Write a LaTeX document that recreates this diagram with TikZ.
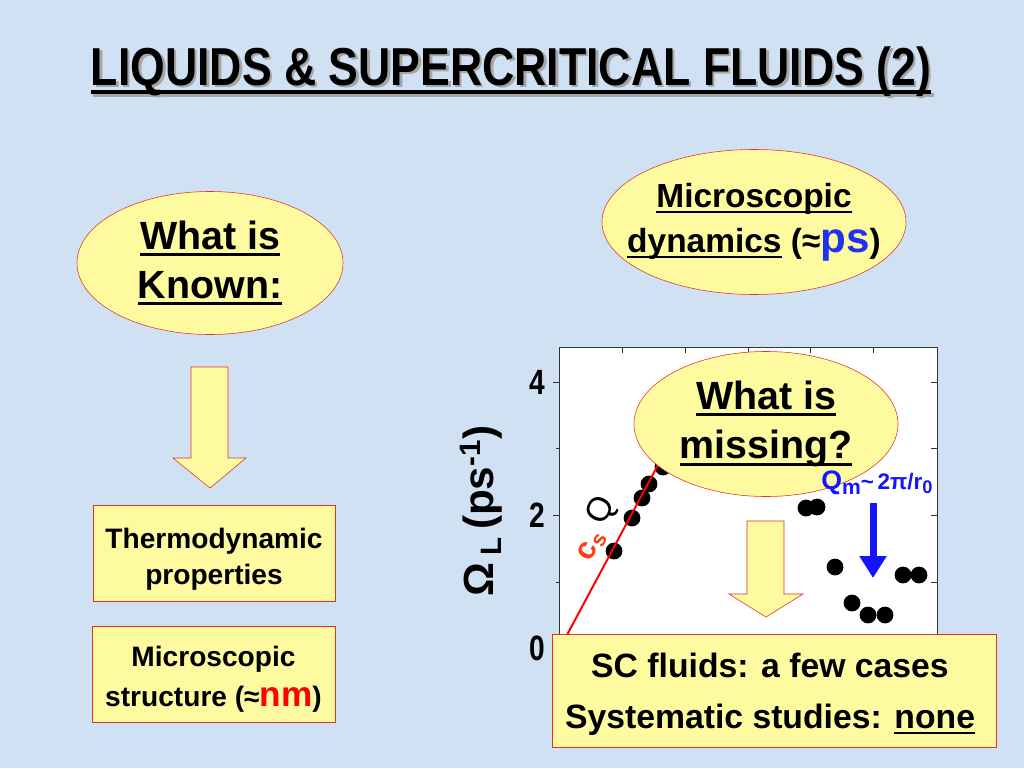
\documentclass[tikz,border=0pt]{standalone}
\usepackage{fontspec}
\setmainfont{Liberation Sans}
\newfontfamily\narrowfont[FakeStretch=0.835]{Liberation Sans}
\newfontfamily\ticksfont[FakeStretch=0.80]{Liberation Sans}
\usetikzlibrary{positioning,shapes.geometric,arrows.meta}
\definecolor{slidebg}{RGB}{207,225,242}
\definecolor{padyellow}{RGB}{253,250,160}
\definecolor{padred}{RGB}{225,50,40}
\definecolor{csred}{RGB}{255,60,20}
\definecolor{qblue}{RGB}{20,20,255}
\definecolor{psblue}{RGB}{30,50,240}
\newcommand{\setfs}[2]{\fontsize{#1}{#2}\selectfont}
\newsavebox{\undlbox}
\newcommand{\undl}[1]{\sbox{\undlbox}{#1}\leavevmode\rlap{\vrule height -0.1em depth 0.175em width \wd\undlbox}\usebox{\undlbox}}

\begin{document}
\begin{tikzpicture}[x=0.25mm,y=-0.25mm,
  bubble/.style={ellipse,draw=padred,fill=padyellow,thin,align=center,inner sep=0pt},
  padbox/.style={rectangle,draw=padred,fill=padyellow,thin,inner sep=0pt},
  blockarrow/.style={draw=padred,fill=padyellow,thin},
  ticklbl/.style={anchor=east,font=\ticksfont\bfseries\setfs{25}{25}},
  csline/.style={draw=red,line width=1.4pt}]

% background
\fill[slidebg] (0,0) rectangle (1024,768);
\useasboundingbox (0,0) rectangle (1024,768);

% title
\node[anchor=base,text=gray!70,font=\narrowfont\bfseries\setfs{38}{38}] (titleshadow) at (513.5,87.5) {\undl{LIQUIDS \& SUPERCRITICAL FLUIDS (2)}};
\node[anchor=base,font=\narrowfont\bfseries\setfs{38}{38}] (title) at (511,85) {\undl{LIQUIDS \& SUPERCRITICAL FLUIDS (2)}};

% left column
\node[bubble,minimum width=66.5mm,minimum height=35.75mm,font=\bfseries\setfs{28}{35}] (known) at (210,263) {\undl{What is}\\\undl{Known:}};
\draw[blockarrow] (191,367) -- (228,367) -- (228,458) -- (246,458) -- (210,488) -- (173,458) -- (191,458) -- cycle;
\node[padbox,minimum width=60.5mm,minimum height=24mm] (thermo) at (214,553) {};
\node[align=center,yshift=-1.5mm,font=\bfseries\setfs{20}{25.6}] (thermotext) at (thermo) {Thermodynamic\\properties};
\node[padbox,minimum width=60.75mm,minimum height=24mm] (struct) at (213.5,674) {};
\node[align=center,yshift=-1.25mm,font=\bfseries\setfs{20}{28.5}] (structtext) at (struct) {Microscopic\\structure (≈{\color{red}\setfs{25}{25}nm})};

% plot
\fill[white] (559,347) rectangle (937,700);
\draw[black!80,line width=0.7pt] (559,700) -- (559,347) -- (937,347) -- (937,700);
\draw[black!80,line width=0.7pt] (553,382) -- (559,382) (556,448) -- (559,448) (553,515) -- (559,515) (556,582) -- (559,582) (553,648) -- (559,648);
\draw[black!80,line width=0.7pt] (931,382) -- (937,382) (931,448) -- (937,448) (931,515) -- (937,515) (931,582) -- (937,582);
\draw[black!80,line width=0.7pt] (622,347) -- (622,353) (685,347) -- (685,353) (748,347) -- (748,353) (810,347) -- (810,353) (873,347) -- (873,353);
\node[ticklbl] (t4) at (550,382) {4};
\node[ticklbl] (t2) at (550,515) {2};
\node[ticklbl] (t0) at (550,648) {0};
\node[rotate=90,font=\bfseries\setfs{30}{30}] (ylabel) at (481,511) {Ω\,\textsubscript{L}\,(ps\textsuperscript{-1})};

% data
\fill (614,551) circle[radius=2.1mm];
\fill (632,518) circle[radius=2.1mm];
\fill (642,498) circle[radius=2.1mm];
\fill (649,484) circle[radius=2.1mm];
\fill (663,467) circle[radius=2.1mm];
\fill (806,508) circle[radius=2.1mm];
\fill (817,507) circle[radius=2.1mm];
\fill (835,567) circle[radius=2.1mm];
\fill (852,603) circle[radius=2.1mm];
\fill (868,615) circle[radius=2.1mm];
\fill (885,615) circle[radius=2.1mm];
\fill (903,575) circle[radius=2.1mm];
\fill (919,575) circle[radius=2.1mm];

\coordinate (cs0) at (560,648);
\coordinate (cs1) at (682,420);
\draw[csline] (cs0) -- (cs1);
\node[rotate=62,font=\setfs{24}{24}] (qsym) at (602,511) {Q};
\node[rotate=62,text=csred,font=\bfseries\setfs{22}{22}] (cs) at (592,546) {c\textsubscript{s}};

\coordinate (qtop) at (873,503);
\coordinate (qbot) at (873,578);
\draw[qblue,line width=1.75mm,-{Triangle[width=6.5mm,length=5.5mm]}] (qtop) -- (qbot);

\node[bubble,minimum width=66mm,minimum height=36.25mm,font=\bfseries\setfs{28}{35}] (missing) at (766,424) {\undl{What is}\\\undl{missing?}};
\draw[blockarrow] (747,521) -- (784,521) -- (784,594) -- (803,594) -- (766,617) -- (729,594) -- (747,594) -- cycle;
\node[anchor=base west,text=qblue,font=\bfseries\setfs{19}{19},inner sep=0pt] (qm) at (821,489) {Q\raisebox{-0.22em}{\setfs{15}{15}m}{\setfs{16}{16}\textasciitilde\,2π/r\raisebox{-0.2em}{\setfs{13}{13}0}}};

\node[padbox,minimum width=111mm,minimum height=28.25mm] (cases) at (774,690.5) {};
\node[align=center,xshift=-1mm,yshift=-1mm,font=\bfseries\setfs{24}{36}] (casestext) at (cases) {SC fluids: a few cases\\Systematic studies: \undl{none}};

% right top
\node[bubble,minimum width=76mm,minimum height=36.25mm] (dynamics) at (754,222) {};
\node[align=center,font=\bfseries\setfs{23.8}{32}] (dynamicstext) at (dynamics) {\undl{Microscopic}\\\undl{dynamics} (≈{\color{psblue}\setfs{30}{30}ps})};

\end{tikzpicture}
\end{document}
